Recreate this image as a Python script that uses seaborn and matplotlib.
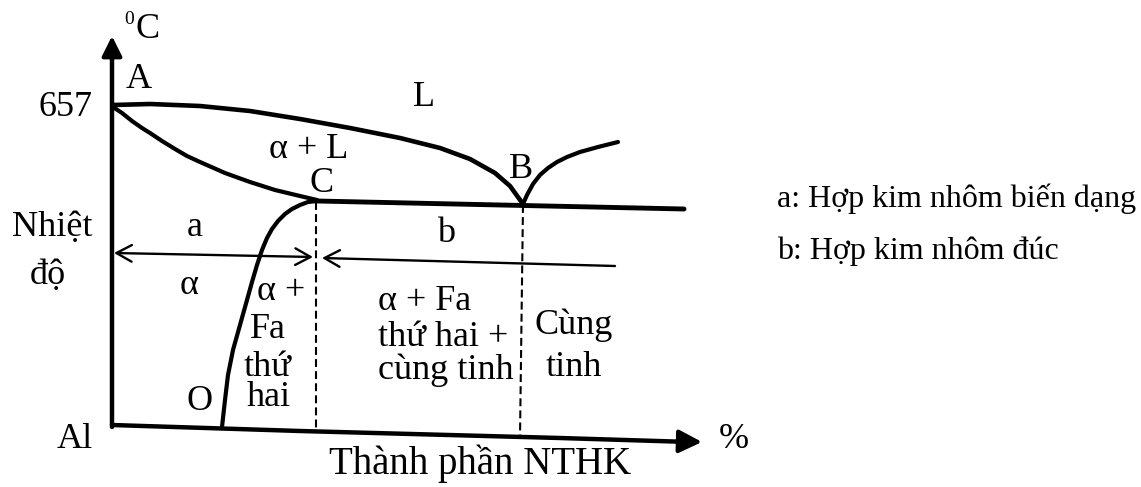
import numpy as np
import pandas as pd
import seaborn as sns
import matplotlib.pyplot as plt

# Phase diagram points (composition axis -> x, temperature -> y,
# both in the picture's own frame; y grows downward)
liquidus_x = [113, 150, 200, 250, 300, 350, 400, 440, 470, 495, 510, 523]
liquidus_y = [105, 104, 106, 111, 119, 128, 138, 148, 159, 173, 186, 204]

liquidus_right_x = [523, 527, 533, 540, 548, 557, 567, 580, 598, 618]
liquidus_right_y = [204, 195, 184, 175, 168, 162, 157, 152, 147, 142]

solidus_x = [113, 122, 132, 142, 150, 162, 175, 187, 200, 225, 250, 275, 300, 317]
solidus_y = [107, 113, 121, 128, 133, 141, 149, 156, 162, 173, 182, 190, 196, 200]

solvus_x = [317, 308, 300, 292, 285, 278, 272, 267, 262, 257, 252, 247, 240, 233, 228,
            225, 222]
solvus_y = [201, 202, 205, 209, 214, 221, 229, 238, 250, 265, 282, 300, 325, 350, 375,
            400, 427]

eutectic_x = [317, 684]
eutectic_y = [201, 209]

xaxis_x = [112, 300, 560, 690]
xaxis_y = [425, 431, 438, 442]

dashed_c_x = [316, 316]
dashed_c_y = [202, 431]
dashed_b_x = [523, 520]
dashed_b_y = [205, 437]

# region labels
region_labels = ['A', 'L', 'α + L', 'B', 'C', 'a', 'b', 'α', 'α +', 'Fa', 'thứ', 'hai',
                 'Cùng', 'tinh', 'O']
region_x = [139, 424, 309, 521, 322, 195, 446, 189, 281, 268, 268, 269, 574, 574, 200]
region_y = [80, 98, 150, 170, 184, 228, 233, 286, 291, 330, 367, 398, 325, 368, 402]

mid_lines = ['α + Fa', 'thứ hai +', 'cùng tinh']
mid_y = [302, 338, 370]

legend_lines = ['a: Hợp kim nhôm biến dạng', 'b: Hợp kim nhôm đúc']
legend_y = [199, 251]


def curve(ax, xs, ys, **kw):
    """Draws one curve of the diagram in the given order."""
    df = pd.DataFrame({'x': xs, 'y': ys})
    sns.lineplot(data=df, x='x', y='y', sort=False, estimator=None, ax=ax,
                 color='black', solid_capstyle='round', **kw)


sns.set_theme(style='white')
plt.rcParams['font.family'] = ['Liberation Serif', 'DejaVu Serif']

fig = plt.figure(figsize=(11.41, 4.87), dpi=100)
ax = fig.add_axes([0, 0, 1, 1])

# axes of the diagram
curve(ax, [112, 112], [427, 50], lw=3.2)
curve(ax, xaxis_x, xaxis_y, lw=3.2)
ax.annotate('', xy=(112, 36), xytext=(112, 60),
            arrowprops=dict(arrowstyle='-|>,head_length=0.6,head_width=0.3',
                            mutation_scale=20, lw=3, color='black',
                            shrinkA=0, shrinkB=0))
ax.annotate('', xy=(702, 442), xytext=(680, 441.4),
            arrowprops=dict(arrowstyle='-|>,head_length=0.7,head_width=0.35',
                            mutation_scale=20, lw=3, color='black',
                            shrinkA=0, shrinkB=0))

# phase boundaries
curve(ax, liquidus_x, liquidus_y, lw=3.3)
curve(ax, liquidus_right_x, liquidus_right_y, lw=3.0)
curve(ax, solidus_x, solidus_y, lw=3.0)
curve(ax, solvus_x, solvus_y, lw=3.0)
curve(ax, eutectic_x, eutectic_y, lw=3.5)
curve(ax, dashed_c_x, dashed_c_y, lw=1.5, linestyle=(0, (3.8, 2)))
curve(ax, dashed_b_x, dashed_b_y, lw=1.5, linestyle=(0, (3.8, 2)))

# ranges a and b
ax.annotate('', xy=(114, 253), xytext=(313, 257),
            arrowprops=dict(arrowstyle='<->,head_length=0.55,head_width=0.3',
                            mutation_scale=20, lw=1.7, color='black',
                            shrinkA=0, shrinkB=0))
ax.annotate('', xy=(322, 258), xytext=(615, 266),
            arrowprops=dict(arrowstyle='->,head_length=0.55,head_width=0.3',
                            mutation_scale=20, lw=1.7, color='black',
                            shrinkA=0, shrinkB=0))

txt = dict(color='black', fontsize=26)
for label, x, y in zip(region_labels, region_x, region_y):
    ax.text(x, y, label, ha='center', va='center', **txt)
for label, y in zip(mid_lines, mid_y):
    ax.text(378, y, label, ha='left', va='center', **txt)

ax.text(92, 108, '657', ha='right', va='center', **txt)
ax.text(52, 228, 'Nhiệt', ha='center', va='center', **txt)
ax.text(48, 275, 'độ', ha='center', va='center', **txt)
ax.text(75, 440, 'Al', ha='center', va='center', **txt)
ax.text(480, 464, 'Thành phần NTHK', ha='center', va='center',
        color='black', fontsize=28)
ax.text(734, 440, '%', ha='center', va='center', **txt)
ax.text(129, 20, '0', ha='center', va='center', color='black', fontsize=14)
ax.text(148, 30, 'C', ha='center', va='center', **txt)

for label, y in zip(legend_lines, legend_y):
    ax.text(777, y, label, ha='left', va='center', color='black', fontsize=23)

ax.set_xlim(0, 1141)
ax.set_ylim(487, 0)
ax.axis('off')

fig.savefig('out.png', dpi=100)
